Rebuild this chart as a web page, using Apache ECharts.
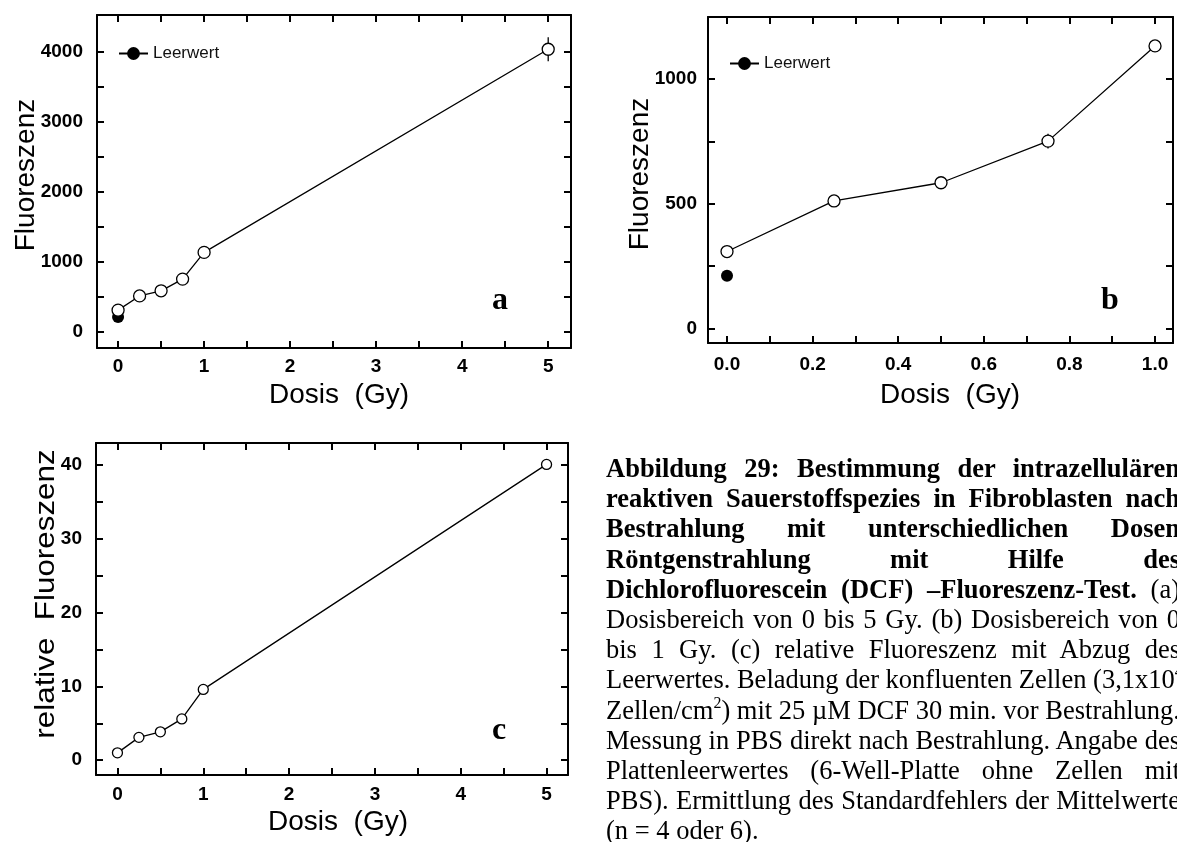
<!DOCTYPE html>
<html>
<head>
<meta charset="utf-8">
<script src="https://cdn.jsdelivr.net/npm/echarts@6/dist/echarts.min.js"></script>
<style>
  html, body { margin: 0; padding: 0; width: 1177px; height: 842px; overflow: hidden; background: #fff; }
  #chart { position: absolute; left: 0; top: 0; width: 1177px; height: 842px; }
  #caption { position: absolute; left: 606px; top: 453px; width: 574px;
             font-family: 'Liberation Serif', 'Times New Roman', serif; font-size: 26.5px;
             line-height: 30.2px; color: #000; }
  #caption .ln { white-space: nowrap; text-align: justify; text-align-last: justify; height: 30.2px; }
  #caption .ln.last { text-align: left; text-align-last: left; }
  #caption sup { font-size: 0.6em; line-height: 0; vertical-align: 0.7em; }
</style>
</head>
<body>
<div id="chart"></div>
<div id="caption"></div>
<script>
// Irradiation doses (Gy) and DCF fluorescence readings (mean, standard error)
const dose = [0, 0.25, 0.5, 0.75, 1, 5];
const fluorescence = [308, 511, 584, 751, 1133, 4035];
const fluorescenceErr = [10, 12, 10, 30, 15, 170];
// Plate blank (6-well plate without cells, PBS only)
const blankDose = [0];
const blankValue = [211];
// Relative fluorescence after subtracting the blank
const relativeFluorescence = [1.0, 3.1, 3.85, 5.6, 9.6, 40.1];

// Tick positions and tick labels
const ticksDoseWide = [0, 0.5, 1, 1.5, 2, 2.5, 3, 3.5, 4, 4.5, 5];
const labelsDoseWide = [0, 1, 2, 3, 4, 5];
const ticksDoseNarrow = [0, 0.1, 0.2, 0.3, 0.4, 0.5, 0.6, 0.7, 0.8, 0.9, 1.0];
const labelsDoseNarrow = [0, 0.2, 0.4, 0.6, 0.8, 1.0];
const ticksFluorWide = [0, 500, 1000, 1500, 2000, 2500, 3000, 3500, 4000];
const labelsFluorWide = [0, 1000, 2000, 3000, 4000];
const ticksFluorNarrow = [0, 250, 500, 750, 1000];
const labelsFluorNarrow = [0, 500, 1000];
const ticksRelative = [0, 5, 10, 15, 20, 25, 30, 35, 40];
const labelsRelative = [0, 10, 20, 30, 40];

// Figure caption, one entry per printed line
const captionLines = [
  [{ t: 'Abbildung 29: Bestimmung der intrazellulären', b: true }],
  [{ t: 'reaktiven Sauerstoffspezies in Fibroblasten nach', b: true }],
  [{ t: 'Bestrahlung mit unterschiedlichen Dosen', b: true }],
  [{ t: 'Röntgenstrahlung mit Hilfe des', b: true }],
  [{ t: 'Dichlorofluorescein (DCF) –Fluoreszenz-Test.', b: true }, { t: ' (a)' }],
  [{ t: 'Dosisbereich von 0 bis 5 Gy. (b) Dosisbereich von 0' }],
  [{ t: 'bis 1 Gy. (c) relative Fluoreszenz mit Abzug des' }],
  [{ t: 'Leerwertes. Beladung der konfluenten Zellen (3,1x10' }, { t: '4', sup: true }],
  [{ t: 'Zellen/cm' }, { t: '2', sup: true }, { t: ') mit 25 µM DCF 30 min. vor Bestrahlung.' }],
  [{ t: 'Messung in PBS direkt nach Bestrahlung. Angabe des' }],
  [{ t: 'Plattenleerwertes (6-Well-Platte ohne Zellen mit' }],
  [{ t: 'PBS). Ermittlung des Standardfehlers der Mittelwerte' }],
  [{ t: '(n = 4 oder 6).' }]
];

const SANS = "'Liberation Sans', Arial, Helvetica, sans-serif";
const SERIF = "'Liberation Serif', 'Times New Roman', serif";

// caption text
const cap = document.getElementById('caption');
captionLines.forEach((parts, i) => {
  const ln = document.createElement('div');
  ln.className = 'ln' + (i === captionLines.length - 1 ? ' last' : '');
  parts.forEach(p => {
    const el = document.createElement(p.sup ? 'sup' : (p.b ? 'b' : 'span'));
    el.textContent = p.t;
    ln.appendChild(el);
  });
  cap.appendChild(ln);
});

// one framed panel: labelled bottom/left axes plus mirrored top/right axes with inward ticks
const frameLine = { show: true, onZero: false, lineStyle: { color: '#000', width: 2 } };
function tickStyle(values) {
  return { show: true, inside: true, length: 7, customValues: values, lineStyle: { color: '#000', width: 2 } };
}
function labelStyle(values, fmt, margin) {
  return { show: true, customValues: values, formatter: fmt, margin: margin,
           color: '#000', fontFamily: SANS, fontWeight: 'bold', fontSize: 19 };
}
function xPair(gi, min, max, ticks, labels, fmt, margin) {
  return [
    { type: 'value', gridIndex: gi, position: 'bottom', min, max, axisLine: frameLine,
      axisTick: tickStyle(ticks), axisLabel: labelStyle(labels, fmt, margin), splitLine: { show: false } },
    { type: 'value', gridIndex: gi, position: 'top', min, max, axisLine: frameLine,
      axisTick: tickStyle(ticks), axisLabel: { show: false }, splitLine: { show: false } }
  ];
}
function yPair(gi, min, max, ticks, labels, fmt, margin) {
  return [
    { type: 'value', gridIndex: gi, position: 'left', min, max, axisLine: frameLine,
      axisTick: tickStyle(ticks), axisLabel: labelStyle(labels, fmt, margin), splitLine: { show: false } },
    { type: 'value', gridIndex: gi, position: 'right', min, max, axisLine: frameLine,
      axisTick: tickStyle(ticks), axisLabel: { show: false }, splitLine: { show: false } }
  ];
}
const intFmt = v => String(Math.round(v));
const oneDec = v => v.toFixed(1);

function blankSeries(xi, yi, size) {
  return { type: 'line', name: 'Leerwert', xAxisIndex: xi, yAxisIndex: yi, z: 2,
           data: blankDose.map((d, i) => [d, blankValue[i]]),
           symbol: 'circle', symbolSize: size, itemStyle: { color: '#000' },
           lineStyle: { color: '#000', width: 1.3 } };
}
function errorSeries(xi, yi, maxDose) {
  const rows = [];
  dose.forEach((d, i) => {
    if (d <= maxDose) rows.push([d, fluorescence[i] - fluorescenceErr[i], fluorescence[i] + fluorescenceErr[i]]);
  });
  return { type: 'custom', xAxisIndex: xi, yAxisIndex: yi, z: 3, data: rows,
    renderItem: (params, api) => {
      const lo = api.coord([api.value(0), api.value(1)]);
      const hi = api.coord([api.value(0), api.value(2)]);
      return { type: 'line', shape: { x1: lo[0], y1: lo[1], x2: hi[0], y2: hi[1] },
               style: { stroke: '#000', lineWidth: 1.3 } };
    } };
}
function mainSeries(xi, yi, xs, ys, size) {
  return { type: 'line', xAxisIndex: xi, yAxisIndex: yi, z: 4,
           data: xs.map((d, i) => [d, ys[i]]),
           symbol: 'circle', symbolSize: size, showAllSymbol: true,
           itemStyle: { color: '#fff', borderColor: '#000', borderWidth: 1.3 },
           lineStyle: { color: '#000', width: 1.3 } };
}

const doseB = dose.filter(d => d <= 1);
const fluorB = fluorescence.slice(0, doseB.length);

function title(text, x, y, size, rotated, scale) {
  return { type: 'text', x, y, rotation: rotated ? Math.PI / 2 : 0, scaleX: scale || 1,
           style: { text, fontFamily: SANS, fontSize: size, fill: '#000', align: 'center', verticalAlign: 'middle' } };
}
function panelLetter(text, x, y) {
  return { type: 'text', x, y,
           style: { text, fontFamily: SERIF, fontWeight: 'bold', fontSize: 32, fill: '#000', align: 'center', verticalAlign: 'middle' } };
}

const chart = echarts.init(document.getElementById('chart'), null, { renderer: 'canvas' });
chart.setOption({
  animation: false,
  backgroundColor: '#fff',
  grid: [
    { left: 97, top: 15, width: 474, height: 333 },
    { left: 708, top: 17, width: 465, height: 326 },
    { left: 96, top: 443, width: 472, height: 332 }
  ],
  xAxis: [
    ...xPair(0, -0.245, 5.265, ticksDoseWide, labelsDoseWide, intFmt, 9),
    ...xPair(1, -0.0444, 1.042, ticksDoseNarrow, labelsDoseNarrow, oneDec, 12),
    ...xPair(2, -0.25, 5.25, ticksDoseWide, labelsDoseWide, intFmt, 10)
  ],
  yAxis: [
    ...yPair(0, -233, 4524, ticksFluorWide, labelsFluorWide, intFmt, 14),
    ...yPair(1, -59, 1249, ticksFluorNarrow, labelsFluorNarrow, intFmt, 11),
    ...yPair(2, -2, 43, ticksRelative, labelsRelative, intFmt, 14)
  ],
  legend: [
    { data: ['Leerwert'], left: 118, top: 45, padding: 0, itemWidth: 29, itemHeight: 16,
      selectedMode: false, textStyle: { fontFamily: SANS, fontSize: 17, color: '#111' } },
    { data: ['Leerwert'], left: 729, top: 55, padding: 0, itemWidth: 29, itemHeight: 16,
      selectedMode: false, textStyle: { fontFamily: SANS, fontSize: 17, color: '#111' } }
  ],
  series: [
    blankSeries(0, 0, 12),
    errorSeries(0, 0, 5),
    mainSeries(0, 0, dose, fluorescence, 12),
    blankSeries(2, 2, 12),
    errorSeries(2, 2, 1),
    mainSeries(2, 2, doseB, fluorB, 12),
    mainSeries(4, 4, dose, relativeFluorescence, 10)
  ],
  graphic: [
    title('Fluoreszenz', 26, 175, 28, true),
    title('Dosis  (Gy)', 339, 395, 28, false),
    title('Fluoreszenz', 640, 174, 28, true),
    title('Dosis  (Gy)', 950, 395, 28, false),
    title('relative  Fluoreszenz', 46, 594, 28, true, 1.12),
    title('Dosis  (Gy)', 338, 822, 28, false),
    panelLetter('a', 500, 301),
    panelLetter('b', 1110, 301),
    panelLetter('c', 499, 731)
  ]
});
</script>
</body>
</html>
